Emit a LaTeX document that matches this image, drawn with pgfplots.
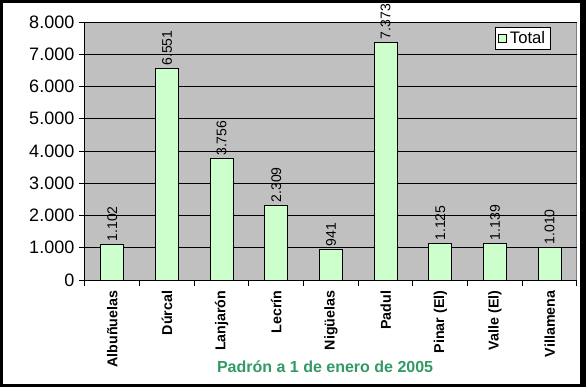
\documentclass[border=0pt]{standalone}
\usepackage{fontspec}
\setmainfont{Liberation Sans}
\usepackage{pgfplots}
\pgfplotsset{compat=1.18}
\definecolor{plotbg}{HTML}{C0C0C0}
\definecolor{barfill}{HTML}{CCFFCC}
\definecolor{titlegreen}{HTML}{339966}
\definecolor{bordergray}{HTML}{808080}
\begin{document}
\begin{tikzpicture}
\useasboundingbox (0,0) rectangle (439.5pt,290.25pt);
\fill[black] (0,0) rectangle (439.5pt,290.25pt);
\fill[white] (2.25pt,2.25pt) rectangle (435pt,288pt);
\begin{axis}[
  at={(63.75pt,80.25pt)}, anchor=south west,
  width=369pt, height=193.5pt, scale only axis,
  xmin=-0.5, xmax=8.5, ymin=0, ymax=8000,
  axis background/.style={fill=plotbg, draw=bordergray, line width=0.75pt},
  axis x line*=bottom, axis y line*=left,
  axis line style={-, black, line width=0.75pt},
  ytick={0,1000,...,8000},
  xtick={0,...,8},
  xticklabels={Albuñuelas,Dúrcal,Lanjarón,Lecrín,Nigüelas,Padul,Pinar (El),Valle (El),Villamena},
  minor xtick={-0.5,0.5,...,8.5},
  major x tick style={draw=none},
  tick align=outside,
  major tick length=4.5pt, minor tick length=4.5pt,
  tick style={black, line width=0.75pt},
  ymajorgrids, major grid style={black, line width=0.75pt},
  /pgf/number format/.cd, 1000 sep={.}, assume math mode=true, /pgfplots/.cd,
  yticklabel style={font=\fontsize{13.5}{15}\selectfont, anchor=east},
  xticklabel style={font=\fontsize{10.7}{12}\selectfont\bfseries, rotate=90, anchor=east},
  xlabel={Padrón a 1 de enero de 2005},
  xlabel style={font=\fontsize{12}{14}\selectfont\bfseries, text=titlegreen, at={(axis description cs:0.488,0)}, anchor=base, yshift=-69pt},
  legend style={at={(axis description cs:1,1)}, anchor=north east, xshift=-19.5pt, yshift=-3.75pt,
    draw=black, fill=white, line width=0.75pt, font=\fontsize{12.5}{14}\selectfont,
    inner xsep=2pt, inner ysep=1pt, nodes={inner xsep=2pt, inner ysep=2pt}},
  legend image code/.code={\draw[#1, line width=0.75pt] (0pt,-3pt) rectangle (6pt,3pt);},
  nodes near coords={\pgfmathprintnumber[1000 sep={.}, assume math mode=true]{\pgfplotspointmeta}},
  every node near coord/.append style={rotate=90, anchor=west, font=\fontsize{10.5}{12}\selectfont, inner sep=2pt, black},
]
\addplot[ybar, bar width=17.25pt, fill=barfill, draw=black, line width=0.75pt] coordinates {
  (0,1102) (1,6551) (2,3756) (3,2309) (4,941) (5,7373) (6,1125) (7,1139) (8,1010)
};
\addlegendentry{Total}
\end{axis}
\end{tikzpicture}
\end{document}
